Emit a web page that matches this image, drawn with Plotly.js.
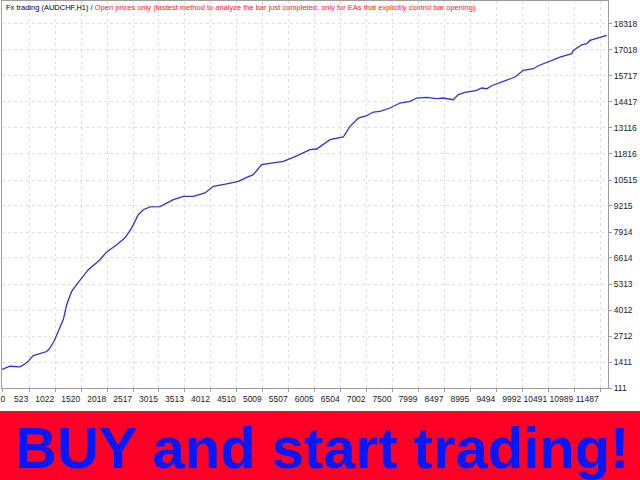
<!DOCTYPE html>
<html>
<head>
<meta charset="utf-8">
<script src="https://cdn.plot.ly/plotly-3.0.1.min.js"></script>
<style>html,body{margin:0;padding:0;background:#fff;}#chart{width:640px;height:480px;}</style>
</head>
<body>
<div id="chart"></div>
<script>
// ---- data ----
const trades = [0,154,346,474,601,730,859,922,999,1082,1178,1243,1339,1447,1658,1883,2011,2203,2363,2492,2618,2714,2843,3035,3291,3483,3675,3900,4059,4316,4539,4701,4827,4989,5212,5404,5596,5788,5917,6045,6301,6556,6685,6845,7006,7133,7261,7453,7645,7838,7966,8158,8350,8477,8669,8766,8894,9119,9215,9311,9407,9630,9855,10014,10206,10302,10527,10719,10944,10975,11136,11231,11295,11455,11617];
const balance = [1036,1200,1170,1370,1735,1835,1935,2120,2450,2950,3535,4285,4950,5335,6030,6530,6920,7280,7620,8120,8780,9030,9170,9180,9530,9700,9700,9870,10200,10320,10450,10650,10780,11280,11365,11450,11650,11870,12030,12065,12530,12665,13195,13615,13730,13915,13945,14115,14365,14445,14615,14645,14580,14615,14530,14790,14895,14995,15115,15080,15230,15445,15665,16000,16080,16230,16445,16665,16830,16995,17280,17330,17495,17615,17745];
const xTickLabels = ["0","523","1022","1520","2018","2517","3015","3513","4012","4510","5009","5507","6005","6504","7002","7500","7999","8497","8995","9494","9992","10491","10989","11487"];
const yTickLabels = ["111","1411","2712","4012","5313","6614","7914","9215","10515","11816","13116","14417","15717","17018","18318"];
const titleBlack = "Fx trading (AUDCHF,H1) / ";
const titleRed = "Open prices only (fastest method to analyze the bar just completed, only for EAs that explicitly control bar opening)";
const bannerText = "BUY and start trading!";

// ---- layout geometry ----
const W = 640, H = 480;
const L = 2, R = 32, T = 1, B = 92;
const plotW = W - L - R, plotH = H - T - B;
const xMax = 11640.7;
const yMin = 111, yMax = 19468;
const perPx = xMax / plotW;
const px2paperX = p => (p - L) / plotW;
const py2paperY = p => (H - B - p) / plotH;

const xTickVals = xTickLabels.map(Number);
const yTickVals = yTickLabels.map(Number);
// labels sit just left of their grid line (right aligned)
const xLabelPos = xTickLabels.map((s, i) => {
  const v = xTickVals[i];
  if (i === 0) return v + 0.8 * perPx;
  return v - (s.length * 4.7 / 2 + 1) * perPx;
});

const axisFont = {family: "Liberation Sans, Arial, sans-serif", size: 8.5, color: "#222"};

const traces = [
  {x: trades, y: balance, type: "scatter", mode: "lines",
   line: {color: "#2b37c4", width: 1.3}, hoverinfo: "skip", showlegend: false},
  {x: [0], y: [yMin], xaxis: "x2", type: "scatter", mode: "markers",
   marker: {opacity: 0}, hoverinfo: "skip", showlegend: false}
];

const layout = {
  width: W, height: H,
  margin: {l: L, r: R, t: T, b: B, pad: 0},
  paper_bgcolor: "#ffffff", plot_bgcolor: "#ffffff",
  showlegend: false,
  xaxis: {
    range: [0, xMax], tickmode: "array", tickvals: xTickVals, showticklabels: false,
    showgrid: true, gridcolor: "#dedede", griddash: "dot", gridwidth: 1,
    showline: true, linecolor: "#9c9c9c", linewidth: 1, mirror: true,
    ticks: "outside", ticklen: 3, tickcolor: "#9c9c9c", zeroline: false, fixedrange: true
  },
  xaxis2: {
    overlaying: "x", side: "bottom", range: [0, xMax], tickmode: "array",
    tickvals: xLabelPos, ticktext: xTickLabels, showgrid: false, showline: false,
    ticks: "", zeroline: false, tickfont: axisFont, tickangle: 0, ticklabelstandoff: 4, fixedrange: true
  },
  yaxis: {
    side: "right", range: [yMin, yMax], tickmode: "array", tickvals: yTickVals, ticktext: yTickLabels,
    showgrid: true, gridcolor: "#dedede", griddash: "dot", gridwidth: 1,
    showline: true, linecolor: "#9c9c9c", linewidth: 1, mirror: true,
    ticks: "outside", ticklen: 3, tickcolor: "#9c9c9c", zeroline: false,
    tickfont: axisFont, fixedrange: true
  },
  shapes: [
    {type: "rect", xref: "paper", yref: "paper", layer: "above",
     x0: px2paperX(-2), x1: px2paperX(W + 2), y0: py2paperY(411), y1: py2paperY(H + 2),
     fillcolor: "#ff0026", line: {width: 0}}
  ],
  annotations: [
    {xref: "paper", yref: "paper", x: px2paperX(4), y: py2paperY(8), xanchor: "left", yanchor: "middle",
     showarrow: false, align: "left",
     text: titleBlack + "<span style='color:#ff1a1a'>" + titleRed + "</span>",
     font: {family: "Liberation Sans, Arial, sans-serif", size: 7.5, color: "#000"}},
    {xref: "paper", yref: "paper", x: px2paperX(322), y: py2paperY(447), xanchor: "center", yanchor: "middle",
     showarrow: false, text: "<b>" + bannerText + "</b>",
     font: {family: "Liberation Sans, Arial, sans-serif", size: 58, color: "#0018ff"}}
  ]
};

Plotly.newPlot("chart", traces, layout, {staticPlot: true, displayModeBar: false});
</script>
</body>
</html>
